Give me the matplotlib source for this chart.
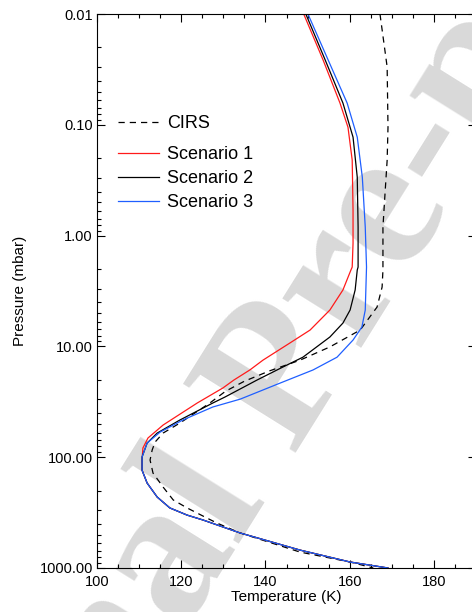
import numpy as np
import matplotlib.pyplot as plt
from matplotlib.ticker import FixedLocator, LogLocator, NullFormatter, FuncFormatter, MultipleLocator

plt.rcParams['font.family'] = ['Liberation Sans', 'DejaVu Sans']

# CIRS profile (pressure in mbar, temperature in K)
p_cirs = [0.01, 0.030, 0.105, 0.208, 0.413, 0.836, 2.04, 2.91, 4.41, 7.11, 10.1, 13.3, 16.6, 20.6,
          25.4, 32.4, 49.1, 60.5, 72.9, 86.1, 106, 139, 186, 243, 287, 354, 393, 483, 718, 883, 1000]
t_cirs = [167.2, 168.9, 169.1, 168.9, 168.4, 167.9, 167.9, 167.7, 166.5, 162.5, 155.3, 148.2, 141.0, 135.0,
          130.5, 126.8, 119.7, 115.7, 113.8, 113.1, 112.6, 113.3, 115.7, 118.1, 121.4, 126.1, 128.5, 134.0,
          148.2, 160.1, 165.6]

# Scenario 1
p_s1 = [0.01, 0.026, 0.0635, 0.105, 0.208, 0.587, 1.17, 1.92, 2.04, 3.09, 4.69, 7.11, 9.31, 13.3, 16.3,
        20.1, 23.7, 32.4, 51.2, 67.1, 82.6, 106, 131, 171, 229, 287, 333, 369, 483, 689, 883, 1000]
t_s1 = [149.1, 153.7, 157.7, 159.6, 160.6, 160.8, 160.8, 160.6, 160.3, 158.4, 155.3, 150.6, 145.8, 139.4, 136.3,
        132.5, 129.9, 123.8, 115.7, 112.1, 110.9, 110.7, 110.7, 111.9, 114.3, 117.3, 121.4, 125.2, 134.0,
        148.2, 160.1, 169.1]

# Scenario 2
p_s2 = [0.01, 0.026, 0.0635, 0.129, 0.296, 0.836, 1.92, 2.04, 3.09, 4.69, 6.15, 8.22, 12.5, 15.3, 20.1,
        28.6, 32.4, 46.1, 60.5, 74.5, 99.5, 131, 171, 229, 287, 333, 369, 483, 689, 883, 1000]
t_s2 = [149.6, 154.2, 158.4, 160.8, 161.8, 162.0, 162.0, 161.8, 161.3, 160.1, 158.4, 155.3, 148.9, 144.2, 138.0,
        130.4, 127.5, 119.7, 114.3, 111.9, 110.7, 110.7, 111.9, 114.3, 117.3, 121.4, 125.2, 134.0, 148.2,
        160.1, 169.1]

# Scenario 3
p_s3 = [0.01, 0.026, 0.0635, 0.129, 0.296, 0.836, 1.92, 4.69, 6.68, 8.75, 12.5, 16.3, 21.4, 29.9, 35.2,
        46.1, 59.3, 74.5, 99.5, 131, 171, 229, 287, 333, 369, 483, 689, 883, 1000]
t_s3 = [150.1, 154.9, 159.4, 161.8, 163.0, 163.7, 164.0, 163.7, 162.9, 160.8, 157.0, 151.3, 143.5, 134.0, 127.5,
        120.4, 115.0, 111.9, 110.7, 110.7, 111.9, 114.3, 117.3, 121.4, 125.2, 134.0, 148.2, 160.1, 169.1]

yticks = [0.01, 0.1, 1, 10, 100, 1000]

fig = plt.figure(figsize=(4.72, 6.12), dpi=100)
ax = fig.add_axes([0.2055, 0.0719, 0.803, 0.905])
ax.set_facecolor('none')

fig.text(0.595, 0.374, 'Journal Pre-proof', family='Liberation Serif', weight='bold',
         fontsize=145, color='#d9d9d9', rotation=58, rotation_mode='anchor',
         ha='center', va='center', zorder=-1)

l0, = ax.plot(t_cirs, p_cirs, color='k', lw=0.9, ls=(0, (5, 4)))
l1, = ax.plot(t_s1, p_s1, color='#ff1a1a', lw=0.9)
l2, = ax.plot(t_s2, p_s2, color='k', lw=0.9)
l3, = ax.plot(t_s3, p_s3, color='#1f5fff', lw=0.9)

ax.set_yscale('log')
ax.set_ylim(1000, 0.01)
ax.set_xlim(100, 190)
ax.yaxis.set_major_locator(FixedLocator(yticks))
ax.yaxis.set_minor_locator(LogLocator(base=10, subs=np.arange(2, 10)))
ax.yaxis.set_minor_formatter(NullFormatter())
ax.yaxis.set_major_formatter(FuncFormatter(lambda v, pos: '%.2f' % v))
ax.xaxis.set_major_locator(MultipleLocator(20))
ax.xaxis.set_minor_locator(MultipleLocator(5))

ax.tick_params(which='both', direction='in', top=True, right=True, width=0.8, labelsize=10.5)
ax.tick_params(which='major', length=6)
ax.tick_params(which='minor', length=3)
ax.tick_params(axis='x', pad=5)
ax.tick_params(axis='y', pad=3)
for s in ax.spines.values():
    s.set_linewidth(0.8)

ax.set_xlabel('Temperature (K)', fontsize=11)
ax.set_ylabel('Pressure (mbar)', fontsize=11)
ax.xaxis.set_label_coords(0.5, -0.04)
ax.yaxis.set_label_coords(-0.185, 0.5)

leg1 = ax.legend([l0], ['CIRS'], loc='upper left', bbox_to_anchor=(0.055, 0.817), frameon=False,
                 fontsize=13, handlelength=2.3, handletextpad=0.45, borderpad=0, borderaxespad=0)
ax.add_artist(leg1)
ax.legend([l1, l2, l3], ['Scenario 1', 'Scenario 2', 'Scenario 3'], loc='upper left',
          bbox_to_anchor=(0.055, 0.762), frameon=False, fontsize=13, handlelength=2.3,
          handletextpad=0.45, borderpad=0, borderaxespad=0, labelspacing=0.4)

plt.savefig('out.png', dpi=100)
